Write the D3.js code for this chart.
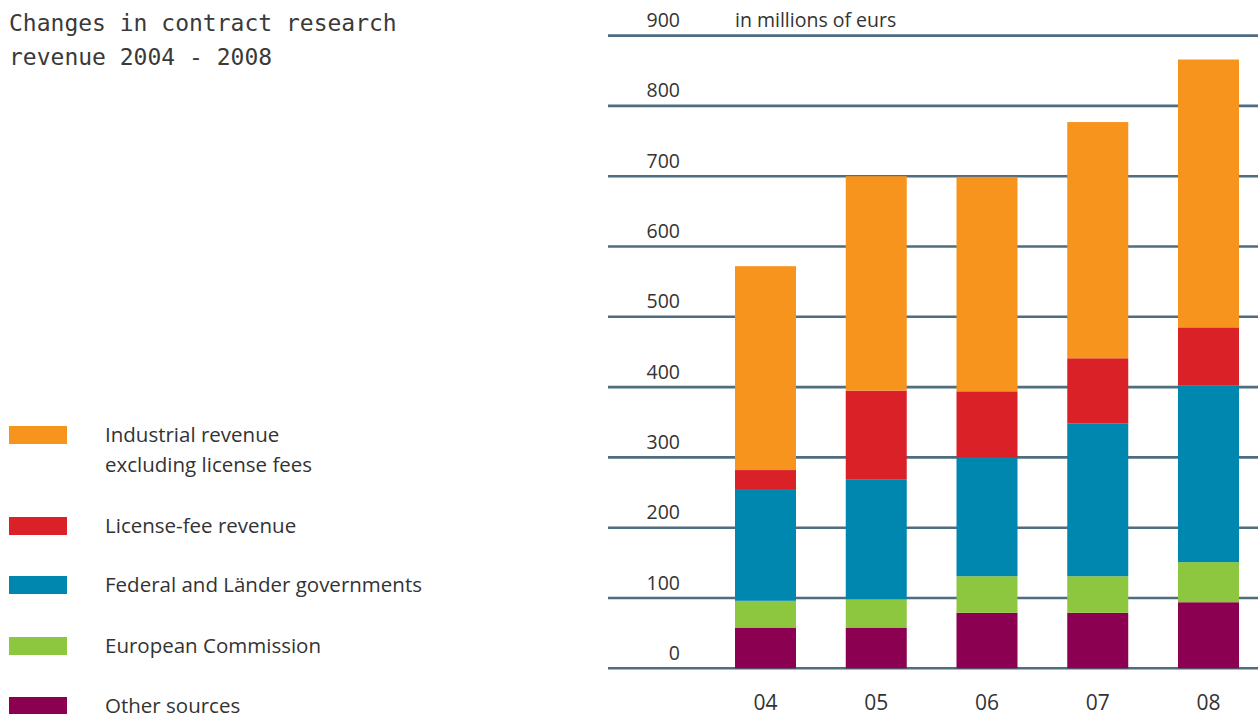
<!DOCTYPE html>
<html>
<head>
<meta charset="utf-8">
<script src="https://cdn.jsdelivr.net/npm/d3@7"></script>
<style>
  body { margin: 0; background: #fff; }
  svg { display: block; }
  .title { font-family: "DejaVu Sans Mono", monospace; font-size: 23px; fill: #3a3a3a; }
  .lbl { font-family: "Open Sans", sans-serif; font-weight: 400; fill: #333; }
</style>
</head>
<body>
<div id="wrapper"></div>
<script>
// Data (millions of euros)
const years = ["04", "05", "06", "07", "08"];
const seriesNames = [
  "Other sources",
  "European Commission",
  "Federal and Länder governments",
  "License-fee revenue",
  "Industrial revenue excluding license fees",
];
const otherSources = [58, 58, 79, 79, 94];
const europeanCommission = [38, 40, 52, 52, 57];
const federalLaender = [159, 171, 169, 217, 251];
const licenseFees = [27, 126, 94, 93, 83];
const industrial = [290, 305, 305, 336, 381];
const yTicks = [0, 100, 200, 300, 400, 500, 600, 700, 800, 900];
const colors = ["#8b0051", "#8dc63f", "#0087b0", "#da2128", "#f7941e"];

const legendItems = [
  { lines: ["Industrial revenue", "excluding license fees"], color: colors[4] },
  { lines: ["License-fee revenue"], color: colors[3] },
  { lines: ["Federal and Länder governments"], color: colors[2] },
  { lines: ["European Commission"], color: colors[1] },
  { lines: ["Other sources"], color: colors[0] },
];

const table = years.map((y, i) => ({
  year: y,
  s0: otherSources[i],
  s1: europeanCommission[i],
  s2: federalLaender[i],
  s3: licenseFees[i],
  s4: industrial[i],
}));
const stacked = d3.stack().keys(["s0", "s1", "s2", "s3", "s4"])(table);

const width = 1258, height = 714;
const svg = d3.select("#wrapper").append("svg")
  .attr("width", width).attr("height", height);

// Scales
const yScale = d3.scaleLinear().domain([0, 900]).range([668.3, 35.6]);
const xScale = d3.scalePoint().domain(years).range([765.5, 1208.5]);
const barWidth = 61;

// Title
svg.append("text").attr("class", "title").attr("x", 9).attr("y", 31)
  .text("Changes in contract research");
svg.append("text").attr("class", "title").attr("x", 9).attr("y", 65)
  .text("revenue 2004 - 2008");

// Grid lines
svg.append("g").selectAll("line").data(yTicks).join("line")
  .attr("x1", 608).attr("x2", width)
  .attr("y1", (d) => yScale(d)).attr("y2", (d) => yScale(d))
  .attr("stroke", "#4e6d7f").attr("stroke-width", 2.6);

// Y labels
svg.append("g").selectAll("text").data(yTicks).join("text")
  .attr("class", "lbl")
  .attr("x", 680).attr("y", (d) => yScale(d) - 8.5)
  .attr("text-anchor", "end")
  .style("font-size", "19.5px")
  .text((d) => d);
svg.append("text").attr("class", "lbl")
  .attr("x", 735).attr("y", 27)
  .style("font-size", "19.5px")
  .text("in millions of eurs");

// Bars
svg.append("g").selectAll("g").data(stacked).join("g")
  .attr("fill", (d, i) => colors[i])
  .selectAll("rect").data((d) => d).join("rect")
  .attr("x", (d) => xScale(d.data.year) - barWidth / 2)
  .attr("width", barWidth)
  .attr("y", (d) => yScale(d[1]))
  .attr("height", (d) => yScale(d[0]) - yScale(d[1]));

// X labels
svg.append("g").selectAll("text").data(years).join("text")
  .attr("class", "lbl")
  .attr("x", (d) => xScale(d)).attr("y", 710)
  .attr("text-anchor", "middle")
  .style("font-size", "21px")
  .text((d) => d);

// Legend
const legendY = [426, 517, 576, 637, 697];
const legend = svg.append("g").selectAll("g").data(legendItems).join("g")
  .attr("transform", (d, i) => `translate(0, ${legendY[i]})`);
legend.append("rect")
  .attr("x", 9).attr("width", 58).attr("height", 18)
  .attr("fill", (d) => d.color);
legend.each(function (d) {
  d3.select(this).selectAll("text").data(d.lines).join("text")
    .attr("class", "lbl")
    .attr("x", 105).attr("y", (l, j) => 16 + j * 30)
    .style("font-size", "20.5px")
    .text((l) => l);
});
</script>
</body>
</html>
